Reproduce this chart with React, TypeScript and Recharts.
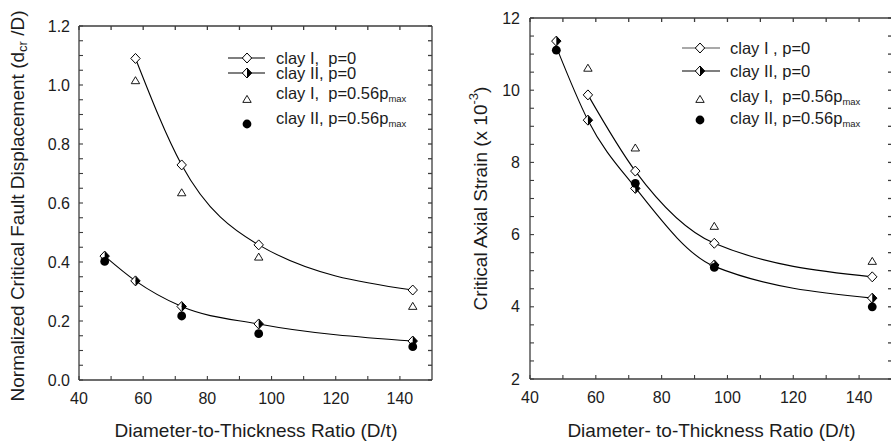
import React from 'react';
import { ComposedChart, Line, Scatter, XAxis, YAxis } from 'recharts';

// ---------- data ----------
const dtRatios = [48, 57.6, 72, 96, 144];
const xTicks = [40, 50, 60, 70, 80, 90, 100, 110, 120, 130, 140];
const xTickLabels = [40, 60, 80, 100, 120, 140];
const xDomain = [40, 150];

// left panel: normalized critical fault displacement
const fdClayIp0 = [null, 1.09, 0.729, 0.458, 0.305];
const fdClayIIp0 = [0.42, 0.336, 0.249, 0.19, 0.132];
const fdClayIp056 = [null, 1.016, 0.636, 0.418, 0.251];
const fdClayIIp056 = [0.402, null, 0.217, 0.157, 0.113];
const fdFitClayI = [null, 1.09, 0.729, 0.458, 0.305];
const fdFitClayII = [0.42, 0.336, 0.249, 0.19, 0.132];
const fdYTicks = [0, 0.05, 0.1, 0.15, 0.2, 0.25, 0.3, 0.35, 0.4, 0.45, 0.5, 0.55, 0.6, 0.65, 0.7, 0.75, 0.8, 0.85, 0.9, 0.95, 1.0, 1.05, 1.1, 1.15, 1.2];
const fdYTickLabels = [0, 0.2, 0.4, 0.6, 0.8, 1.0, 1.2];

// right panel: critical axial strain (x 10^-3)
const asClayIp0 = [null, 9.87, 7.76, 5.76, 4.83];
const asClayIIp0 = [11.36, 9.17, 7.28, 5.16, 4.24];
const asClayIp056 = [null, 10.62, 8.41, 6.24, 5.27];
const asClayIIp056 = [11.11, null, 7.42, 5.09, 4.0];
const asFitClayI = [null, 9.87, 7.76, 5.76, 4.83];
const asFitClayII = [11.2, 9.17, 7.3, 5.12, 4.24];
const asYTicks = [2, 2.5, 3, 3.5, 4, 4.5, 5, 5.5, 6, 6.5, 7, 7.5, 8, 8.5, 9, 9.5, 10, 10.5, 11, 11.5, 12];
const asYTickLabels = [2, 4, 6, 8, 10, 12];

// ---------- styling ----------
const FONT = "'Liberation Sans', Arial, Helvetica, sans-serif";
const AXIS = '#3c3c3c';
const INK = '#1c1c1c';
const TICK_PX = 4;

const toPts = (ys: (number | null)[]) =>
  dtRatios
    .map((x, i) => (ys[i] == null ? null : { x, y: ys[i] as number }))
    .filter((p) => p !== null) as { x: number; y: number }[];

// ---------- marker shapes ----------
const OpenDiamond = ({ cx, cy }: any) => (
  <path
    d={`M${cx},${cy - 5}L${cx + 4.7},${cy}L${cx},${cy + 5}L${cx - 4.7},${cy}Z`}
    fill="#fff"
    stroke="#000"
    strokeWidth={1}
  />
);
const HalfDiamond = ({ cx, cy }: any) => (
  <g>
    <path d={`M${cx},${cy - 5}L${cx},${cy + 5}L${cx - 4.7},${cy}Z`} fill="#fff" />
    <path d={`M${cx},${cy - 5}L${cx + 4.7},${cy}L${cx},${cy + 5}Z`} fill="#000" />
    <path
      d={`M${cx},${cy - 5}L${cx + 4.7},${cy}L${cx},${cy + 5}L${cx - 4.7},${cy}Z`}
      fill="none"
      stroke="#000"
      strokeWidth={1}
    />
  </g>
);
const OpenTriangle = ({ cx, cy }: any) => (
  <path
    d={`M${cx},${cy - 3.6}L${cx + 4.2},${cy + 3.4}L${cx - 4.2},${cy + 3.4}Z`}
    fill="none"
    stroke="#000"
    strokeWidth={0.9}
  />
);
const FilledDot = ({ cx, cy }: any) => <circle cx={cx} cy={cy} r={4.4} fill="#000" />;

const noTick = () => null;

// panel geometry (page pixels)
const leftGeom = { ox: 0, width: 445, plotLeft: 79, plotTop: 26, plotBottom: 380, rightMargin: 12 };
const rightGeom = { ox: 445, width: 448, plotLeft: 85, plotTop: 18, plotBottom: 379, rightMargin: 0 };

function Panel(props: any) {
  const { geom, yDomain, yTicks, yLabels, yDecimals, yTickMargin, fitI, fitII, sI0, sII0, sI56, sII56 } = props;
  const { width, plotLeft, plotTop, plotBottom, rightMargin } = geom;
  const height = 445;
  const tickStyle = { fill: INK, fontSize: 16, fontFamily: FONT };
  const frame = {
    stroke: AXIS,
    strokeWidth: 1.3,
    axisLine: true,
    tickLine: true,
    tickSize: -TICK_PX,
    tick: noTick,
    allowDataOverflow: true,
    interval: 0 as const,
    type: 'number' as const,
  };
  const ids = { xAxisId: 'x', yAxisId: 'y' };
  return (
    <ComposedChart
      width={width}
      height={height}
      margin={{ top: plotTop - 1, right: rightMargin, bottom: 0, left: 0 }}
    >
      <XAxis
        xAxisId="x"
        dataKey="x"
        type="number"
        domain={xDomain}
        allowDataOverflow
        ticks={xTickLabels}
        interval={0}
        tickSize={0}
        tickMargin={13}
        height={height - plotBottom}
        axisLine={false}
        tickLine={false}
        tick={tickStyle}
      />
      <XAxis xAxisId="t" dataKey="x" orientation="top" domain={xDomain} ticks={xTicks} height={1} {...frame} />
      <YAxis
        yAxisId="y"
        type="number"
        domain={yDomain}
        allowDataOverflow
        ticks={yLabels}
        interval={0}
        tickFormatter={(v: number) => v.toFixed(yDecimals)}
        tickSize={0}
        tickMargin={yTickMargin}
        width={plotLeft}
        axisLine={false}
        tickLine={false}
        tick={tickStyle}
      />
      <YAxis yAxisId="r" orientation="right" domain={yDomain} ticks={yTicks} width={1} {...frame} />

      <Line
        {...ids}
        data={toPts(fitI)}
        dataKey="y"
        type="monotone"
        stroke="#000"
        strokeWidth={1.1}
        dot={false}
        activeDot={false}
        isAnimationActive={false}
      />
      <Line
        {...ids}
        data={toPts(fitII)}
        dataKey="y"
        type="monotone"
        stroke="#000"
        strokeWidth={1.1}
        dot={false}
        activeDot={false}
        isAnimationActive={false}
      />
      <Scatter
        {...ids}
        data={toPts(sI56)}
        dataKey="y"
        shape={(p: any) => <OpenTriangle cx={p.cx} cy={p.cy} />}
        isAnimationActive={false}
      />
      <Scatter
        {...ids}
        data={toPts(sI0)}
        dataKey="y"
        shape={(p: any) => <OpenDiamond cx={p.cx} cy={p.cy} />}
        isAnimationActive={false}
      />
      <Scatter
        {...ids}
        data={toPts(sII0)}
        dataKey="y"
        shape={(p: any) => <HalfDiamond cx={p.cx} cy={p.cy} />}
        isAnimationActive={false}
      />
      <Scatter
        {...ids}
        data={toPts(sII56)}
        dataKey="y"
        shape={(p: any) => <FilledDot cx={p.cx} cy={p.cy} />}
        isAnimationActive={false}
      />
    </ComposedChart>
  );
}

// bottom and left frame edges with inward ticks (same geometry as the panel's plot area)
function BottomLeftFrame({ geom, yDomain, yTicks }: any) {
  const { ox, width, plotLeft, plotTop, plotBottom, rightMargin } = geom;
  const x0 = ox + plotLeft;
  const x1 = ox + width - rightMargin - 1;
  const sx = (v: number) => x0 + ((v - xDomain[0]) / (xDomain[1] - xDomain[0])) * (x1 - x0);
  const sy = (v: number) => plotBottom - ((v - yDomain[0]) / (yDomain[1] - yDomain[0])) * (plotBottom - plotTop);
  return (
    <g stroke={AXIS}>
      <line x1={x0} x2={x1} y1={plotBottom} y2={plotBottom} strokeWidth={1.3} />
      <line x1={x0} x2={x0} y1={plotTop} y2={plotBottom} strokeWidth={1.3} />
      {xTicks.map((t: number) => (
        <line key={`bx${t}`} x1={sx(t)} x2={sx(t)} y1={plotBottom} y2={plotBottom - TICK_PX} strokeWidth={1.1} />
      ))}
      {yTicks.map((t: number) => (
        <line key={`ly${t}`} x1={x0} x2={x0 + TICK_PX} y1={sy(t)} y2={sy(t)} strokeWidth={1.1} />
      ))}
    </g>
  );
}

// ---------- legend ----------
function LegendBlock({ x0, lineX1, lineX2, textX, rows }: any) {
  return (
    <g>
      {rows.map((r: any, i: number) => (
        <g key={i}>
          {r.line && (
            <line x1={lineX1} x2={lineX2} y1={r.my} y2={r.my} stroke={r.lineColor || '#000'} strokeWidth={1.1} />
          )}
          {r.kind === 'open' && <OpenDiamond cx={x0} cy={r.my} />}
          {r.kind === 'half' && <HalfDiamond cx={x0} cy={r.my} />}
          {r.kind === 'tri' && <OpenTriangle cx={x0} cy={r.my} />}
          {r.kind === 'dot' && <FilledDot cx={x0} cy={r.my} />}
          <text
            x={textX}
            y={r.ty}
            fontFamily={FONT}
            fontSize={16.5}
            fill={INK}
            xmlSpace="preserve"
            style={{ whiteSpace: 'pre' }}
          >
            {r.text}
            {r.max && (
              <tspan fontSize={9.5} dy={3.5}>
                max
              </tspan>
            )}
          </text>
        </g>
      ))}
    </g>
  );
}

const leftLegendRows = [
  { kind: 'open', line: true, my: 58, ty: 63.5, text: 'clay I,  p=0' },
  { kind: 'half', line: true, my: 73, ty: 78.5, text: 'clay II, p=0' },
  { kind: 'tri', line: false, my: 99, ty: 98.5, text: 'clay I,  p=0.56p', max: true },
  { kind: 'dot', line: false, my: 124, ty: 123.5, text: 'clay II, p=0.56p', max: true },
];
const rightLegendRows = [
  { kind: 'open', line: true, lineColor: '#555', my: 48, ty: 53.5, text: 'clay I , p=0' },
  { kind: 'half', line: true, my: 71, ty: 76.5, text: 'clay II, p=0' },
  { kind: 'tri', line: false, my: 99, ty: 101.5, text: 'clay I,  p=0.56p', max: true },
  { kind: 'dot', line: false, my: 120, ty: 123.5, text: 'clay II, p=0.56p', max: true },
];

const titleProps = { fontFamily: FONT, fontSize: 19, fill: INK };

export default function App() {
  return (
    <div
      style={{
        position: 'absolute',
        left: 0,
        top: 0,
        width: 891,
        height: 445,
        overflow: 'hidden',
        background: '#fff',
      }}
    >
      <div style={{ position: 'absolute', left: leftGeom.ox, top: 0 }}>
        <Panel
          geom={leftGeom}
          yDomain={[0, 1.2]}
          yTicks={fdYTicks}
          yLabels={fdYTickLabels}
          yDecimals={1}
          yTickMargin={9}
          fitI={fdFitClayI}
          fitII={fdFitClayII}
          sI0={fdClayIp0}
          sII0={fdClayIIp0}
          sI56={fdClayIp056}
          sII56={fdClayIIp056}
        />
      </div>
      <div style={{ position: 'absolute', left: rightGeom.ox, top: 0 }}>
        <Panel
          geom={rightGeom}
          yDomain={[2, 12]}
          yTicks={asYTicks}
          yLabels={asYTickLabels}
          yDecimals={0}
          yTickMargin={10}
          fitI={asFitClayI}
          fitII={asFitClayII}
          sI0={asClayIp0}
          sII0={asClayIIp0}
          sI56={asClayIp056}
          sII56={asClayIIp056}
        />
      </div>
      <svg
        width={891}
        height={445}
        style={{ position: 'absolute', left: 0, top: 0, pointerEvents: 'none' }}
      >
        <BottomLeftFrame geom={leftGeom} yDomain={[0, 1.2]} yTicks={fdYTicks} />
        <BottomLeftFrame geom={rightGeom} yDomain={[2, 12]} yTicks={asYTicks} />
        <text x={256} y={437} textAnchor="middle" {...titleProps}>
          Diameter-to-Thickness Ratio (D/t)
        </text>
        <text x={711.5} y={436.5} textAnchor="middle" {...titleProps}>
          Diameter- to-Thickness Ratio (D/t)
        </text>
        <text
          x={17}
          y={206}
          transform="rotate(-90, 17, 206)"
          textAnchor="middle"
          dominantBaseline="central"
          {...titleProps}
        >
          Normalized Critical Fault Displacement (d
          <tspan fontSize={13} dy={5}>cr</tspan>
          <tspan dy={-5}> /D)</tspan>
        </text>
        <text
          x={480}
          y={198.5}
          transform="rotate(-90, 480, 198.5)"
          textAnchor="middle"
          dominantBaseline="central"
          {...titleProps}
        >
          Critical Axial Strain (x 10
          <tspan fontSize={13} dy={-7}>-3</tspan>
          <tspan dy={7}>)</tspan>
        </text>
        <LegendBlock x0={247} lineX1={228} lineX2={265} textX={276} rows={leftLegendRows} />
        <LegendBlock x0={700} lineX1={682} lineX2={720} textX={730} rows={rightLegendRows} />
      </svg>
    </div>
  );
}
